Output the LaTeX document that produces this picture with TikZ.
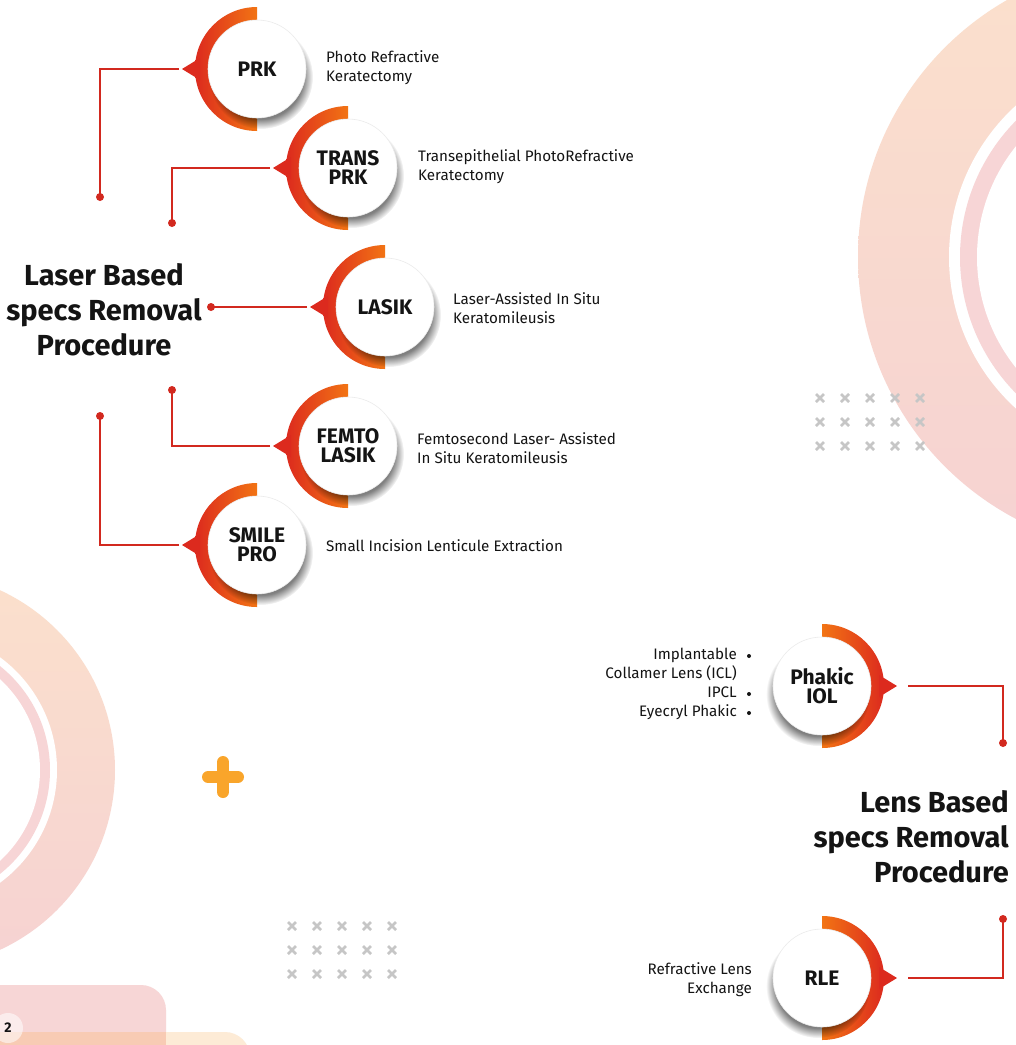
\documentclass[tikz,border=0pt]{standalone}
\usepackage{fontspec}
\setmainfont{Fira Sans}
\usetikzlibrary{fadings}
\definecolor{ringred}{HTML}{DC2A1E}
\definecolor{ringorange}{HTML}{F27414}
\definecolor{linered}{HTML}{D2291F}
\definecolor{peach}{HTML}{FBE0CC}
\definecolor{pinkbg}{HTML}{F6D2D2}
\definecolor{pinkthin}{HTML}{F7D5D6}
\definecolor{xgray}{HTML}{C6C6C6}
\definecolor{plusorange}{HTML}{F9A52B}
\definecolor{tabpink}{HTML}{F7D6D6}
\definecolor{tabpeach}{HTML}{FDEBD6}
\definecolor{taboverlap}{HTML}{F8CBB4}
\definecolor{ink}{HTML}{141414}

\tikzset{
 proc/.style={circle, fill=white, draw=black!8, line width=0.6pt, minimum size=98pt, inner sep=0pt, align=center, text=ink, font=\bfseries\fontsize{21}{19}\selectfont},
 conn/.style={linered, line width=1.6pt},
 enddot/.style={circle, fill=linered, inner sep=0pt, minimum size=8pt},
 desc/.style={text=ink, inner sep=0pt, font=\fontsize{15.2}{19}\selectfont},
 titletext/.style={text=ink, inner sep=0pt, font=\bfseries\fontsize{29}{35}\selectfont},
 xmark/.style={xgray, line width=2.8pt},
 bul/.style={circle, fill=ink, inner sep=0pt, minimum size=4pt},
}

\newcommand\ringleft[4]{%
  \begin{scope}
    \clip (#2,#3) circle (62pt);
    \shade[left color=ringred, right color=ringorange] (#2-62,#3-62) rectangle (#2,#3+62);
  \end{scope}
  \fill[ringred] (#2-75,#3) -- (#2-57,#3-11) -- (#2-57,#3+11) -- cycle;
  \fill[black, opacity=0.5, path fading=circle with fuzzy edge 20 percent] (#2+4,#3+8) circle (52pt);
  \node[proc] (#1) at (#2,#3) {#4};
  \coordinate (#1-tip) at (#2-78,#3);
}
\newcommand\ringright[4]{%
  \begin{scope}
    \clip (#2,#3) circle (62pt);
    \shade[left color=ringorange, right color=ringred] (#2,#3-62) rectangle (#2+62,#3+62);
  \end{scope}
  \fill[ringred] (#2+75,#3) -- (#2+57,#3-11) -- (#2+57,#3+11) -- cycle;
  \fill[black, opacity=0.5, path fading=circle with fuzzy edge 20 percent] (#2-4,#3+8) circle (52pt);
  \node[proc] (#1) at (#2,#3) {#4};
  \coordinate (#1-tip) at (#2+86,#3);
}
\newcommand\xgrid[2]{%
  \foreach \i in {0,...,4}{\foreach \j in {0,1,2}{
    \draw[xmark] (#1+25*\i-4,#2+24*\j-4) -- (#1+25*\i+4,#2+24*\j+4)
                 (#1+25*\i-4,#2+24*\j+4) -- (#1+25*\i+4,#2+24*\j-4);}}
}

\begin{document}
\begin{tikzpicture}[x=1pt,y=-1pt]
\useasboundingbox (0,0) rectangle (1016,1045);
\clip (0,0) rectangle (1016,1045);
\fill[white] (0,0) rectangle (1016,1045);

% background rings
\shade[top color=peach, bottom color=pinkbg] (1154,257) circle (296pt);
\fill[white] (1154,257) circle (205pt);
\fill[pinkthin] (1154,257) circle (194pt);
\fill[white] (1154,257) circle (177pt);

\shade[top color=peach, bottom color=pinkbg] (-83,770) circle (198pt);
\fill[white] (-83,770) circle (140pt);
\fill[pinkthin] (-83,770) circle (133pt);
\fill[white] (-83,770) circle (123pt);

% bottom-left tabs
\fill[tabpink, rounded corners=25pt] (-30,985) rectangle (166,1080);
\fill[tabpeach, rounded corners=25pt] (-30,1032) rectangle (250,1080);
\fill[taboverlap] (0,1032) rectangle (166,1045);
\fill[white, opacity=0.55] (8,1028) circle (15pt);
\node[text=ink, font=\bfseries\fontsize{14}{14}\selectfont] (pagenum) at (8,1028) {2};

% plus sign
\draw[plusorange, line width=12pt, line cap=round] (208,777) -- (238,777) (223,762) -- (223,792);

% x grids
\xgrid{820}{398}
\xgrid{292}{926}

% procedure nodes
\ringleft{prk}{257}{69}{PRK}
\ringleft{tprk}{348}{168}{TRANS\\PRK}
\ringleft{lasik}{385}{307}{LASIK}
\ringleft{femto}{348}{446}{FEMTO\\LASIK}
\ringleft{smile}{257}{545}{SMILE\\PRO}
\ringright{phakic}{822}{686}{Phakic\\IOL}
\ringright{rle}{822}{978}{RLE}

% titles
\node[titletext, align=center] (laser) at (104,310) {Laser Based\\specs Removal\\Procedure};
\node[titletext, align=right, anchor=east] (lens) at (1009,837) {Lens Based\\specs Removal\\Procedure};

% end dots
\node[enddot] (prk-dot) at (100,197) {};
\node[enddot] (tprk-dot) at (172,223) {};
\node[enddot] (lasik-dot) at (211,307) {};
\node[enddot] (femto-dot) at (172,390) {};
\node[enddot] (smile-dot) at (100,416) {};
\node[enddot] (phakic-dot) at (1003,743) {};
\node[enddot] (rle-dot) at (1003,919) {};

% connectors
\draw[conn] (prk-tip) -| (prk-dot.center);
\draw[conn] (tprk-tip) -| (tprk-dot.center);
\draw[conn] (lasik-tip) -- (lasik-dot.center);
\draw[conn] (femto-tip) -| (femto-dot.center);
\draw[conn] (smile-tip) -| (smile-dot.center);
\draw[conn] (phakic-tip) -| (phakic-dot.center);
\draw[conn] (rle-tip) -| (rle-dot.center);

% descriptions
\node[desc, align=left, anchor=west] (prk-d) at (326,68) {Photo Refractive\\Keratectomy};
\node[desc, align=left, anchor=west] (tprk-d) at (418,167) {Transepithelial PhotoRefractive\\Keratectomy};
\node[desc, align=left, anchor=west] (lasik-d) at (453,308) {Laser-Assisted In Situ\\Keratomileusis};
\node[desc, align=left, anchor=west] (femto-d) at (417,448) {Femtosecond Laser- Assisted\\In Situ Keratomileusis};
\node[desc, align=left, anchor=west] (smile-d) at (326,546) {Small Incision Lenticule Extraction};
\node[desc, align=right, anchor=east] (phakic-d) at (737,684) {Implantable\\Collamer Lens (ICL)\\IPCL\\Eyecryl Phakic};
\node[bul] (b1) at (749,656) {};
\node[bul] (b2) at (749,694) {};
\node[bul] (b3) at (749,713) {};
\node[desc, align=right, anchor=east] (rle-d) at (752,980) {Refractive Lens\\Exchange};
\end{tikzpicture}
\end{document}
